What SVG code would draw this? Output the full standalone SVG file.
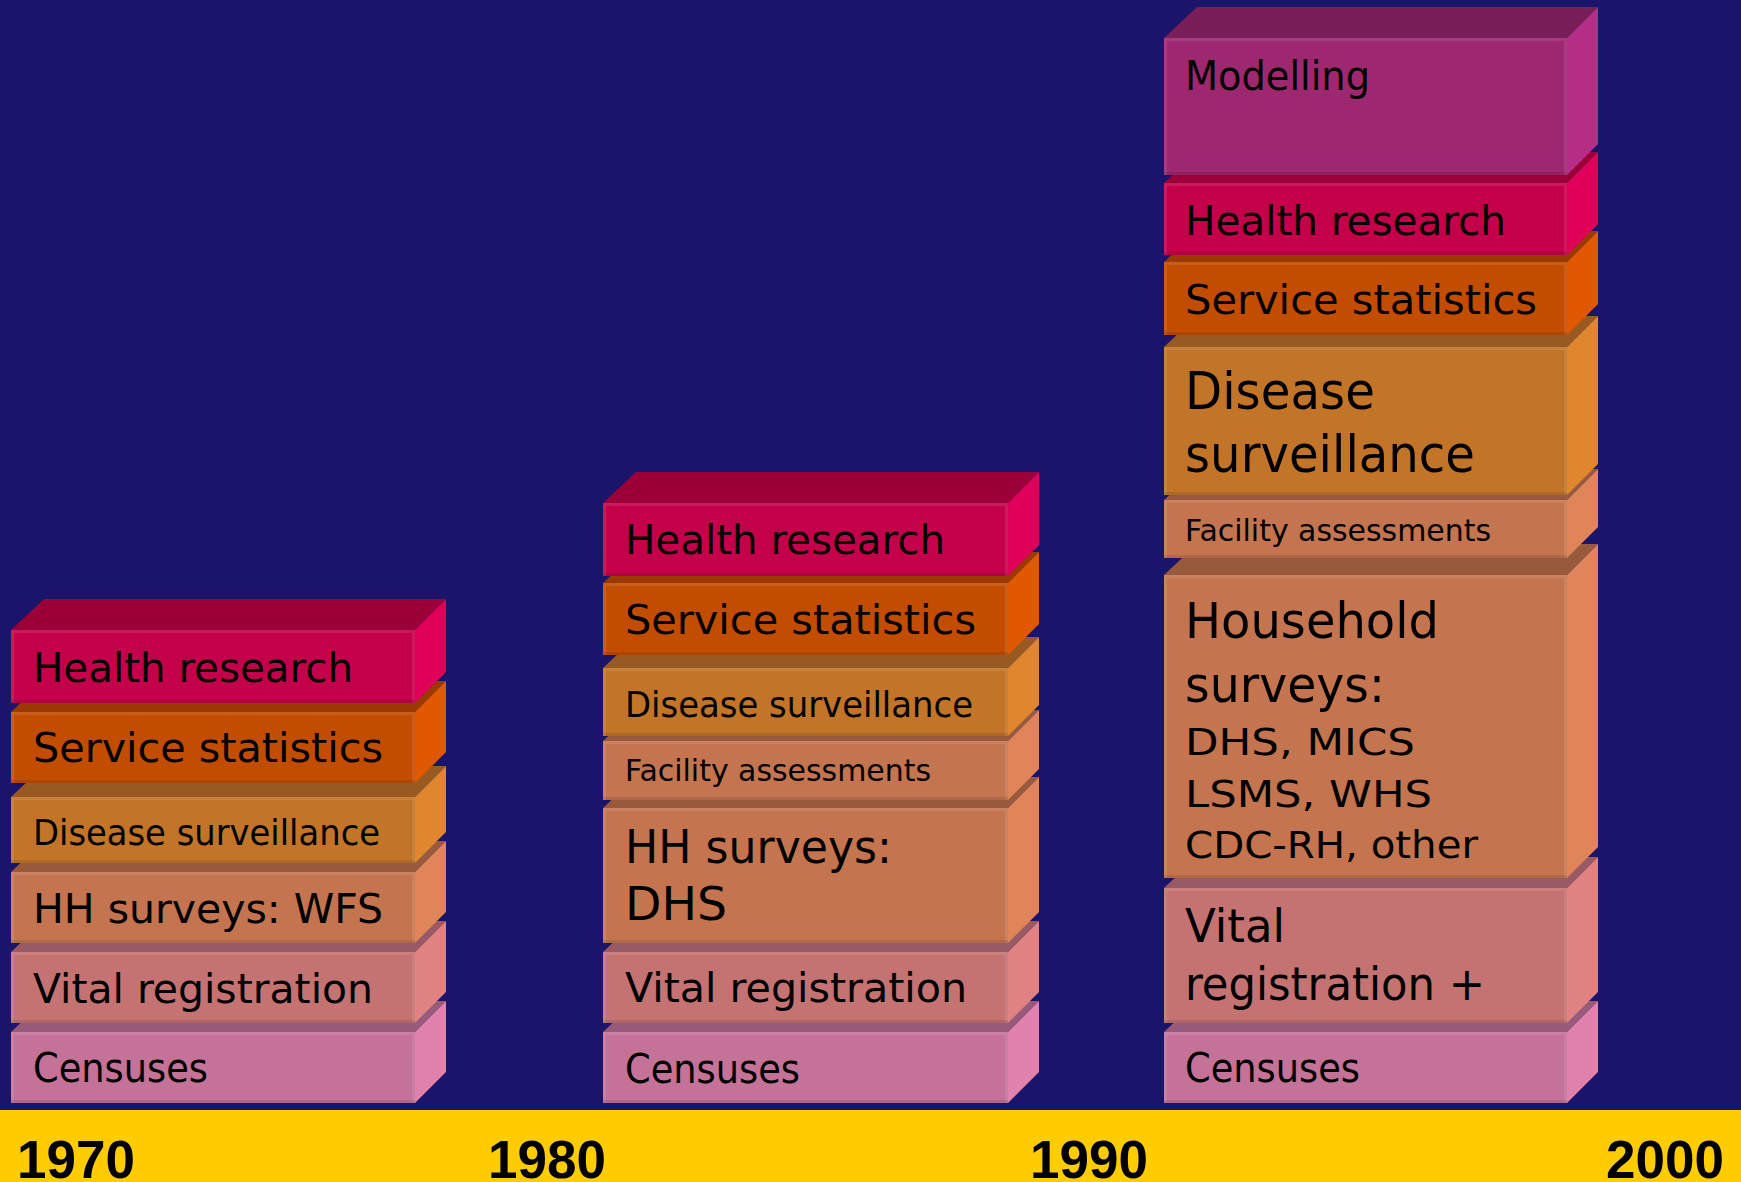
<svg xmlns="http://www.w3.org/2000/svg" width="1741" height="1182" viewBox="0 0 1741 1182">
<style>
.t{font-family:"DejaVu Sans","Liberation Sans",sans-serif;fill:#000}
.yr{font-family:"Liberation Sans",Arial,sans-serif;font-weight:bold;font-size:53px;fill:#000}
.hl{fill:none;stroke:#fff;stroke-opacity:.1;stroke-width:3}
.sh{fill:none;stroke:#000;stroke-opacity:.1;stroke-width:3}
.hr .f{fill:#C4004A}.hr .tp{fill:#9C0038}.hr .s{fill:#E0005A}
.ss .f{fill:#C24C00}.ss .tp{fill:#9A3A00}.ss .s{fill:#E05800}
.ds .f{fill:#C27428}.ds .tp{fill:#985A20}.ds .s{fill:#E0862E}
.hh .f{fill:#C4744E}.hh .tp{fill:#985A3C}.hh .s{fill:#E0845A}
.vr .f{fill:#C47272}.vr .tp{fill:#985A64}.vr .s{fill:#E08282}
.cen .f{fill:#C47298}.cen .tp{fill:#985A7A}.cen .s{fill:#E082AC}
.mo .f{fill:#9E2870}.mo .tp{fill:#7A1E5A}.mo .s{fill:#B42E86}
</style>
<rect width="1741" height="1182" fill="#1B146B"/>
<rect x="0" y="1110" width="1741" height="72" fill="#FFCC00"/>
<g id="axis">
<text class="yr" x="17" y="1178">1970</text>
<text class="yr" x="488" y="1178">1980</text>
<text class="yr" x="1030" y="1178">1990</text>
<text class="yr" x="1606" y="1178">2000</text>
</g>
<g id="connectors"></g>

<!-- Column 1970 -->
<g id="c1-censuses" class="cen">
<polygon class="tp" points="11,1032 44,1001 446,1001 415,1032"/>
<polygon class="s" points="415,1032 446,1001 446,1072 415,1103"/>
<rect class="f" x="11" y="1032" width="404" height="71"/>
<polyline class="hl" points="12.5,1103 12.5,1033.5 413.5,1033.5 413.5,1103"/>
<line class="sh" x1="11" y1="1101.5" x2="415" y2="1101.5"/>
<text class="t" x="33" y="1082" font-size="40" textLength="175" lengthAdjust="spacingAndGlyphs">Censuses</text>
</g>
<g id="c1-vital" class="vr">
<polygon class="tp" points="11,952 44,921 446,921 415,952"/>
<polygon class="s" points="415,952 446,921 446,992 415,1023"/>
<rect class="f" x="11" y="952" width="404" height="71"/>
<polyline class="hl" points="12.5,1023 12.5,953.5 413.5,953.5 413.5,1023"/>
<line class="sh" x1="11" y1="1021.5" x2="415" y2="1021.5"/>
<text class="t" x="33" y="1003" font-size="40" textLength="340" lengthAdjust="spacingAndGlyphs">Vital registration</text>
</g>
<g id="c1-hh" class="hh">
<polygon class="tp" points="11,872 44,841 446,841 415,872"/>
<polygon class="s" points="415,872 446,841 446,912 415,943"/>
<rect class="f" x="11" y="872" width="404" height="71"/>
<polyline class="hl" points="12.5,943 12.5,873.5 413.5,873.5 413.5,943"/>
<line class="sh" x1="11" y1="941.5" x2="415" y2="941.5"/>
<text class="t" x="33" y="923" font-size="40" textLength="350" lengthAdjust="spacingAndGlyphs">HH surveys: WFS</text>
</g>
<g id="c1-disease" class="ds">
<polygon class="tp" points="11,797 44,766 446,766 415,797"/>
<polygon class="s" points="415,797 446,766 446,832 415,863"/>
<rect class="f" x="11" y="797" width="404" height="66"/>
<polyline class="hl" points="12.5,863 12.5,798.5 413.5,798.5 413.5,863"/>
<line class="sh" x1="11" y1="861.5" x2="415" y2="861.5"/>
<text class="t" x="33" y="845" font-size="36" textLength="347" lengthAdjust="spacingAndGlyphs">Disease surveillance</text>
</g>
<g id="c1-service" class="ss">
<polygon class="tp" points="11,712 44,681 446,681 415,712"/>
<polygon class="s" points="415,712 446,681 446,752 415,783"/>
<rect class="f" x="11" y="712" width="404" height="71"/>
<polyline class="hl" points="12.5,783 12.5,713.5 413.5,713.5 413.5,783"/>
<line class="sh" x1="11" y1="781.5" x2="415" y2="781.5"/>
<text class="t" x="33" y="762" font-size="40" textLength="350" lengthAdjust="spacingAndGlyphs">Service statistics</text>
</g>
<g id="c1-health" class="hr">
<polygon class="tp" points="11,630 44,599 446,599 415,630"/>
<polygon class="s" points="415,630 446,599 446,672 415,703"/>
<rect class="f" x="11" y="630" width="404" height="73"/>
<polyline class="hl" points="12.5,703 12.5,631.5 413.5,631.5 413.5,703"/>
<line class="sh" x1="11" y1="701.5" x2="415" y2="701.5"/>
<text class="t" x="33" y="682" font-size="40" textLength="320" lengthAdjust="spacingAndGlyphs">Health research</text>
</g>

<!-- Column 1980 -->
<g id="c2-censuses" class="cen">
<polygon class="tp" points="603,1032 636,1001 1039,1001 1008,1032"/>
<polygon class="s" points="1008,1032 1039,1001 1039,1072 1008,1103"/>
<rect class="f" x="603" y="1032" width="405" height="71"/>
<polyline class="hl" points="604.5,1103 604.5,1033.5 1006.5,1033.5 1006.5,1103"/>
<line class="sh" x1="603" y1="1101.5" x2="1008" y2="1101.5"/>
<text class="t" x="625" y="1083" font-size="40" textLength="175" lengthAdjust="spacingAndGlyphs">Censuses</text>
</g>
<g id="c2-vital" class="vr">
<polygon class="tp" points="603,952 636,921 1039,921 1008,952"/>
<polygon class="s" points="1008,952 1039,921 1039,992 1008,1023"/>
<rect class="f" x="603" y="952" width="405" height="71"/>
<polyline class="hl" points="604.5,1023 604.5,953.5 1006.5,953.5 1006.5,1023"/>
<line class="sh" x1="603" y1="1021.5" x2="1008" y2="1021.5"/>
<text class="t" x="625" y="1002" font-size="40" textLength="342" lengthAdjust="spacingAndGlyphs">Vital registration</text>
</g>
<g id="c2-hh" class="hh">
<polygon class="tp" points="603,808 636,777 1039,777 1008,808"/>
<polygon class="s" points="1008,808 1039,777 1039,912 1008,943"/>
<rect class="f" x="603" y="808" width="405" height="135"/>
<polyline class="hl" points="604.5,943 604.5,809.5 1006.5,809.5 1006.5,943"/>
<line class="sh" x1="603" y1="941.5" x2="1008" y2="941.5"/>
<text class="t" x="625" y="863" font-size="46" textLength="267" lengthAdjust="spacingAndGlyphs">HH surveys:</text>
<text class="t" x="625" y="920" font-size="46" textLength="102" lengthAdjust="spacingAndGlyphs">DHS</text>
</g>
<g id="c2-facility" class="hh">
<polygon class="tp" points="603,741 636,710 1039,710 1008,741"/>
<polygon class="s" points="1008,741 1039,710 1039,769 1008,800"/>
<rect class="f" x="603" y="741" width="405" height="59"/>
<polyline class="hl" points="604.5,800 604.5,742.5 1006.5,742.5 1006.5,800"/>
<line class="sh" x1="603" y1="798.5" x2="1008" y2="798.5"/>
<text class="t" x="625" y="781" font-size="31" textLength="306" lengthAdjust="spacingAndGlyphs">Facility assessments</text>
</g>
<g id="c2-disease" class="ds">
<polygon class="tp" points="603,668 636,637 1039,637 1008,668"/>
<polygon class="s" points="1008,668 1039,637 1039,705 1008,736"/>
<rect class="f" x="603" y="668" width="405" height="68"/>
<polyline class="hl" points="604.5,736 604.5,669.5 1006.5,669.5 1006.5,736"/>
<line class="sh" x1="603" y1="734.5" x2="1008" y2="734.5"/>
<text class="t" x="625" y="717" font-size="36" textLength="348" lengthAdjust="spacingAndGlyphs">Disease surveillance</text>
</g>
<g id="c2-service" class="ss">
<polygon class="tp" points="603,583 636,552 1039,552 1008,583"/>
<polygon class="s" points="1008,583 1039,552 1039,624 1008,655"/>
<rect class="f" x="603" y="583" width="405" height="72"/>
<polyline class="hl" points="604.5,655 604.5,584.5 1006.5,584.5 1006.5,655"/>
<line class="sh" x1="603" y1="653.5" x2="1008" y2="653.5"/>
<text class="t" x="625" y="634" font-size="40" textLength="351" lengthAdjust="spacingAndGlyphs">Service statistics</text>
</g>
<g id="c2-health" class="hr">
<polygon class="tp" points="603,503 636,472 1039,472 1008,503"/>
<polygon class="s" points="1008,503 1039,472 1039,545 1008,576"/>
<rect class="f" x="603" y="503" width="405" height="73"/>
<polyline class="hl" points="604.5,576 604.5,504.5 1006.5,504.5 1006.5,576"/>
<line class="sh" x1="603" y1="574.5" x2="1008" y2="574.5"/>
<text class="t" x="625" y="554" font-size="40" textLength="320" lengthAdjust="spacingAndGlyphs">Health research</text>
</g>

<!-- Column 1990 -->
<g id="c3-censuses" class="cen">
<polygon class="tp" points="1164,1032 1197,1001 1598,1001 1567,1032"/>
<polygon class="s" points="1567,1032 1598,1001 1598,1072 1567,1103"/>
<rect class="f" x="1164" y="1032" width="403" height="71"/>
<polyline class="hl" points="1165.5,1103 1165.5,1033.5 1565.5,1033.5 1565.5,1103"/>
<line class="sh" x1="1164" y1="1101.5" x2="1567" y2="1101.5"/>
<text class="t" x="1185" y="1082" font-size="40" textLength="175" lengthAdjust="spacingAndGlyphs">Censuses</text>
</g>
<g id="c3-vital" class="vr">
<polygon class="tp" points="1164,888 1197,857 1598,857 1567,888"/>
<polygon class="s" points="1567,888 1598,857 1598,992 1567,1023"/>
<rect class="f" x="1164" y="888" width="403" height="135"/>
<polyline class="hl" points="1165.5,1023 1165.5,889.5 1565.5,889.5 1565.5,1023"/>
<line class="sh" x1="1164" y1="1021.5" x2="1567" y2="1021.5"/>
<text class="t" x="1185" y="942" font-size="46" textLength="100" lengthAdjust="spacingAndGlyphs">Vital</text>
<text class="t" x="1185" y="1000" font-size="46" textLength="300" lengthAdjust="spacingAndGlyphs">registration +</text>
</g>
<g id="c3-household" class="hh">
<polygon class="tp" points="1164,575 1197,544 1598,544 1567,575"/>
<polygon class="s" points="1567,575 1598,544 1598,847 1567,878"/>
<rect class="f" x="1164" y="575" width="403" height="303"/>
<polyline class="hl" points="1165.5,878 1165.5,576.5 1565.5,576.5 1565.5,878"/>
<line class="sh" x1="1164" y1="876.5" x2="1567" y2="876.5"/>
<text class="t" x="1185" y="638" font-size="50" textLength="254" lengthAdjust="spacingAndGlyphs">Household</text>
<text class="t" x="1185" y="702" font-size="50" textLength="200" lengthAdjust="spacingAndGlyphs">surveys:</text>
<text class="t" x="1185" y="755" font-size="37" textLength="230" lengthAdjust="spacingAndGlyphs">DHS, MICS</text>
<text class="t" x="1185" y="807" font-size="37" textLength="247" lengthAdjust="spacingAndGlyphs">LSMS, WHS</text>
<text class="t" x="1185" y="858" font-size="37" textLength="293" lengthAdjust="spacingAndGlyphs">CDC-RH, other</text>
</g>
<g id="c3-facility" class="hh">
<polygon class="tp" points="1164,500 1197,469 1598,469 1567,500"/>
<polygon class="s" points="1567,500 1598,469 1598,527 1567,558"/>
<rect class="f" x="1164" y="500" width="403" height="58"/>
<polyline class="hl" points="1165.5,558 1165.5,501.5 1565.5,501.5 1565.5,558"/>
<line class="sh" x1="1164" y1="556.5" x2="1567" y2="556.5"/>
<text class="t" x="1185" y="541" font-size="31" textLength="306" lengthAdjust="spacingAndGlyphs">Facility assessments</text>
</g>
<g id="c3-disease" class="ds">
<polygon class="tp" points="1164,347 1197,316 1598,316 1567,347"/>
<polygon class="s" points="1567,347 1598,316 1598,464 1567,495"/>
<rect class="f" x="1164" y="347" width="403" height="148"/>
<polyline class="hl" points="1165.5,495 1165.5,348.5 1565.5,348.5 1565.5,495"/>
<line class="sh" x1="1164" y1="493.5" x2="1567" y2="493.5"/>
<text class="t" x="1185" y="409" font-size="52" textLength="190" lengthAdjust="spacingAndGlyphs">Disease</text>
<text class="t" x="1185" y="472" font-size="52" textLength="290" lengthAdjust="spacingAndGlyphs">surveillance</text>
</g>
<g id="c3-service" class="ss">
<polygon class="tp" points="1164,262 1197,231 1598,231 1567,262"/>
<polygon class="s" points="1567,262 1598,231 1598,304 1567,335"/>
<rect class="f" x="1164" y="262" width="403" height="73"/>
<polyline class="hl" points="1165.5,335 1165.5,263.5 1565.5,263.5 1565.5,335"/>
<line class="sh" x1="1164" y1="333.5" x2="1567" y2="333.5"/>
<text class="t" x="1185" y="314" font-size="40" textLength="352" lengthAdjust="spacingAndGlyphs">Service statistics</text>
</g>
<g id="c3-health" class="hr">
<polygon class="tp" points="1164,183 1197,152 1598,152 1567,183"/>
<polygon class="s" points="1567,183 1598,152 1598,224 1567,255"/>
<rect class="f" x="1164" y="183" width="403" height="72"/>
<polyline class="hl" points="1165.5,255 1165.5,184.5 1565.5,184.5 1565.5,255"/>
<line class="sh" x1="1164" y1="253.5" x2="1567" y2="253.5"/>
<text class="t" x="1185" y="235" font-size="40" textLength="321" lengthAdjust="spacingAndGlyphs">Health research</text>
</g>
<g id="c3-modelling" class="mo">
<polygon class="tp" points="1164,38 1197,7 1598,7 1567,38"/>
<polygon class="s" points="1567,38 1598,7 1598,144 1567,175"/>
<rect class="f" x="1164" y="38" width="403" height="137"/>
<polyline class="hl" points="1165.5,175 1165.5,39.5 1565.5,39.5 1565.5,175"/>
<line class="sh" x1="1164" y1="173.5" x2="1567" y2="173.5"/>
<text class="t" x="1185" y="90" font-size="40" textLength="185" lengthAdjust="spacingAndGlyphs">Modelling</text>
</g>
</svg>
